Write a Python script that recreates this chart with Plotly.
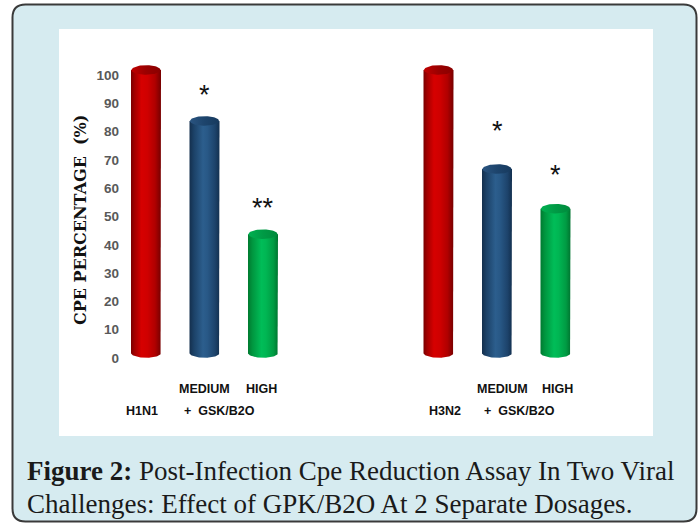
import numpy as np
import plotly.graph_objects as go

# ---------------- data ----------------
virus = ["H1N1", "H1N1", "H1N1", "H3N2", "H3N2", "H3N2"]
treatment = ["Virus", "MEDIUM", "HIGH", "Virus", "MEDIUM", "HIGH"]
cpe_pct = [100, 82, 42, 100, 65, 51]
significance = ["", "*", "**", "", "*", "*"]
y_ticks = [0, 10, 20, 30, 40, 50, 60, 70, 80, 90, 100]
group_labels = ["H1N1", "H3N2"]
dose_labels = ["MEDIUM", "HIGH"]
combo_label = "+  GSK/B2O"
y_title = "CPE PERCENTAGE  (%)"
caption_bold = "Figure 2:"
caption_line1 = " Post-Infection Cpe Reduction Assay In Two Viral"
caption_line2 = "Challenges: Effect of GPK/B2O At 2 Separate Dosages."

# ---------------- layout helpers ----------------
W, H = 699, 525
def fx(px):
    return px / W
def fy(py):
    return 1 - py / H

slots = [0, 1, 2, 5, 6, 7]           # category slot for each bar
PX_PER_X = 58.5
PX_PER_Y = 2.83
Y0_PX = 353.0
X0_PX = 146.0
DOM_L, DOM_R = 120.0, 653.0
xr0 = -(X0_PX - DOM_L) / PX_PER_X
xr1 = xr0 + (DOM_R - DOM_L) / PX_PER_X
yr0, yr1 = -6, 112
ydom = [fy(Y0_PX - yr0 * PX_PER_Y), fy(Y0_PX - yr1 * PX_PER_Y)]

half_w = 15.0 / PX_PER_X              # cylinder half width (x units)
ell_b = 4.8 / PX_PER_Y                # ellipse half height (y units)

body_scales = {
    "Virus": [[0, "#7a0000"], [0.12, "#a30000"], [0.35, "#d60000"], [0.55, "#cf0000"],
              [0.8, "#b00000"], [1, "#760000"]],
    "MEDIUM": [[0, "#142f4d"], [0.15, "#1c4268"], [0.45, "#2c5e8d"], [0.6, "#285886"],
               [0.85, "#1d436b"], [1, "#13304f"]],
    "HIGH": [[0, "#007a30"], [0.15, "#00963f"], [0.45, "#00bd58"], [0.6, "#00b653"],
             [0.85, "#009b43"], [1, "#007530"]],
}
cap_scales = {
    "Virus": [[0, "#c00000"], [0.5, "#9a0000"], [1, "#8a0000"]],
    "MEDIUM": [[0, "#2a5480"], [0.5, "#1d446c"], [1, "#173a5e"]],
    "HIGH": [[0, "#00b050"], [0.5, "#009a45"], [1, "#008a3c"]],
}
sig_gap_px = [0, 31, 31, 0, 43, 39]

fig = go.Figure()
t = np.linspace(0, np.pi, 40)
tt = np.linspace(0, 2 * np.pi, 80)
for s, v, tr in zip(slots, cpe_pct, treatment):
    xs = [s - half_w, s - half_w, s + half_w, s + half_w]
    ys = [0, v, v, 0]
    xs += list(s + half_w * np.cos(t))
    ys += list(0 - ell_b * np.sin(t))
    fig.add_trace(go.Scatter(
        x=xs, y=ys, mode="lines", fill="toself", line=dict(width=0),
        fillgradient=dict(type="horizontal", colorscale=body_scales[tr]),
        hoverinfo="skip", showlegend=False))
    fig.add_trace(go.Scatter(
        x=list(s + half_w * 0.97 * np.cos(tt)), y=list(v + ell_b * np.sin(tt)),
        mode="lines", fill="toself", line=dict(width=0),
        fillgradient=dict(type="horizontal", colorscale=cap_scales[tr]),
        hoverinfo="skip", showlegend=False))

annotations = []
for s, v, sig, gap in zip(slots, cpe_pct, significance, sig_gap_px):
    if sig:
        annotations.append(dict(x=s, y=v, xref="x", yref="y", text=sig, showarrow=False,
                                yshift=gap - 5, yanchor="middle",
                                font=dict(family="Liberation Sans", size=27, color="#111111")))

lab_font = dict(family="Liberation Sans", size=12.5, color="#111111", weight="bold")
row1 = fy(389)
row2 = fy(410.5)
for g, base in enumerate([0, 5]):
    annotations.append(dict(x=base, y=row2, xref="x", yref="paper", text=group_labels[g],
                            showarrow=False, xshift=-4 if g == 0 else 6, yanchor="middle",
                            font=lab_font))
    annotations.append(dict(x=base + 1, y=row1, xref="x", yref="paper", text=dose_labels[0],
                            showarrow=False, xshift=0 if g == 0 else 5, yanchor="middle",
                            font=lab_font))
    annotations.append(dict(x=base + 2, y=row1, xref="x", yref="paper", text=dose_labels[1],
                            showarrow=False, xshift=-2 if g == 0 else 2, yanchor="middle",
                            font=lab_font))
    annotations.append(dict(x=base + 1.5, y=row2, xref="x", yref="paper", text=combo_label,
                            showarrow=False, xshift=-14 if g == 0 else -7, yanchor="middle",
                            font=lab_font))

annotations.append(dict(x=fx(80), y=fy(220), xref="paper", yref="paper", text=y_title,
                        textangle=-90, showarrow=False, xanchor="center", yanchor="middle",
                        font=dict(family="DejaVu Serif", size=16, color="#111111",
                                  weight="bold")))
cap_font = dict(family="Liberation Serif", size=27, color="#1a1a1a")
annotations.append(dict(x=fx(25), y=fy(471), xref="paper", yref="paper",
                        text="<b>" + caption_bold + "</b>" + caption_line1,
                        showarrow=False, xanchor="left", yanchor="middle", font=cap_font))
annotations.append(dict(x=fx(25), y=fy(504), xref="paper", yref="paper",
                        text=caption_line2,
                        showarrow=False, xanchor="left", yanchor="middle", font=cap_font))

L, T, R, B, r = 12.5, 4.5, 696.5, 521.5, 13
path = (f"M {fx(L + r)},{fy(T)} L {fx(R - r)},{fy(T)} Q {fx(R)},{fy(T)} {fx(R)},{fy(T + r)} "
        f"L {fx(R)},{fy(B - r)} Q {fx(R)},{fy(B)} {fx(R - r)},{fy(B)} "
        f"L {fx(L + r)},{fy(B)} Q {fx(L)},{fy(B)} {fx(L)},{fy(B - r)} "
        f"L {fx(L)},{fy(T + r)} Q {fx(L)},{fy(T)} {fx(L + r)},{fy(T)} Z")
shapes = [
    dict(type="path", path=path, xref="paper", yref="paper", fillcolor="#d6ebf0",
         line=dict(color="#3a3a3a", width=2), layer="below"),
    dict(type="rect", x0=fx(59), x1=fx(653), y0=fy(436), y1=fy(29), xref="paper", yref="paper",
         fillcolor="#ffffff", line=dict(width=0), layer="below"),
]

fig.update_layout(
    width=W, height=H, margin=dict(l=0, r=0, t=0, b=0),
    paper_bgcolor="#ffffff", plot_bgcolor="rgba(0,0,0,0)",
    showlegend=False, shapes=shapes, annotations=annotations,
    xaxis=dict(domain=[fx(DOM_L), fx(DOM_R)], range=[xr0, xr1], visible=False, fixedrange=True),
    yaxis=dict(domain=ydom, range=[yr0, yr1], tickvals=y_ticks, showgrid=False, zeroline=False,
               showline=False, ticks="", ticklabelshift=5,
               tickfont=dict(family="Liberation Sans", size=13.5, color="#595959", weight="bold"),
               fixedrange=True),
)

fig.write_html("out.html")
